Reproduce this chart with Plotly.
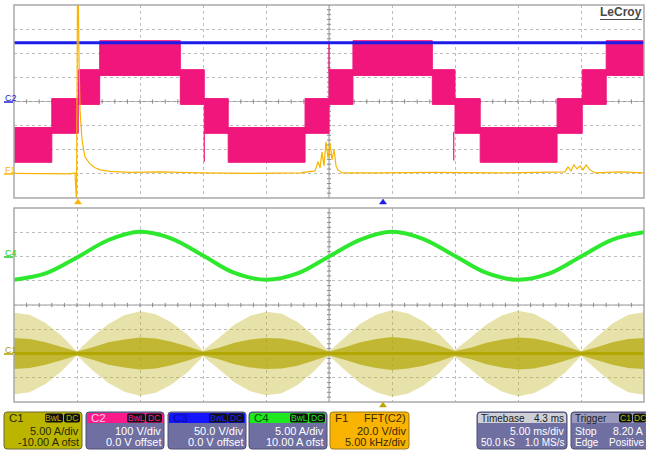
import plotly.graph_objects as go

W, H = 646, 451
def X(p): return p / W
def Y(p): return 1 - p / H

# C2 : multilevel inverter voltage, 100 V/div, 0 V offset (PWM bands between two levels)
c2_edges_ms = [0, 3.0, 5.1, 6.8, 13.2, 15.1, 17.0, 23.1, 25.0, 26.9, 33.2, 35.0, 37.0, 43.1, 45.1, 47.0, 50]
c2_low_V  = [-240, -120, 0, 120, 0, -120, -240, -120, 0, 120, 0, -120, -240, -120, 0, 120]
c2_high_V = [-120, 0, 120, 240, 120, 0, -120, 0, 120, 240, 120, 0, -120, 0, 120, 240]
c2_spike_ms = [15.1, 25.0, 34.9]
c2_spike_from_V = [-125, 125, -125]
c2_spike_to_V = [-250, 240, -245]

# C3 : DC link voltage, 50 V/div, 0 V offset
c3_t_ms = [0, 10, 20, 30, 40, 50]
c3_V = [122, 122, 121.5, 122, 122, 122]

# F1 : FFT(C2), 20 V/div, baseline 3 div below centre
f1_t_ms = [0.0, 4.44, 4.84, 4.96, 5.04, 5.10, 5.16, 5.24, 5.40, 5.63, 6.03, 6.43, 6.83, 7.62, 9.21,
           11.59, 14.76, 18.73, 22.70, 23.89, 24.13, 24.29, 24.44, 24.60, 24.76, 24.92, 25.08, 25.24,
           25.40, 25.56, 25.71, 26.03, 29.05, 33.02, 38.57, 43.73, 43.97, 44.21, 44.44, 44.68, 44.92,
           45.16, 45.40, 45.71, 46.11, 48.10, 50.0]
f1_V = [0.4, 0, 0.8, -22, 150, 150, 94.6, 53, 28, 14, 8.3, 5.0, 3.3, 2.1, 1.2,
        1.7, 0.8, 0.4, 0.8, 2.5, 10, 5, 18, 6.6, 26.6, 13, 25.7, 11.6,
        20, 6.6, 3.3, 0.8, 0.8, 1.2, 0.8, 1.7, 5.8, 2.5, 7.5, 4.1, 6.6,
        3.3, 7.5, 3.3, 0.8, 1.7, 0.8]

# C4 : load current, 5 A/div, +10 A offset
c4_t_ms = [0, 2.5, 5, 7.5, 10, 12.5, 15, 17.5, 20, 22.5, 25, 27.5, 30, 32.5, 35, 37.5, 40, 42.5, 45, 47.5, 50]
c4_A = [-4.8, -3.5, -0.2, 3.4, 5.1, 3.7, 0.2, -3.4, -4.8, -3.5, 0.0, 3.5, 5.1, 3.6, 0.1, -3.4, -4.8, -3.5, 0.0, 3.5, 5.0]

# C1 : switched current, 5 A/div, -10 A offset (spike envelope and dense core)
c1_t_ms = [0, 1.25, 2.5, 3.75, 5.0, 6.25, 7.5, 8.75, 10.0, 11.25, 12.5, 13.75, 15.0, 16.25, 17.5, 18.75,
           20.0, 21.25, 22.5, 23.75, 25.0, 26.25, 27.5, 28.75, 30.0, 31.25, 32.5, 33.75, 35.0, 36.25,
           37.5, 38.75, 40.0, 41.25, 42.5, 43.75, 45.0, 46.25, 47.5, 48.75, 50.0]
c1_peak_A = [8.4, 8.0, 6.3, 3.7, 0.4, 3.5, 6.1, 7.9, 8.7, 8.1, 6.4, 3.9, 0.6, 3.2, 6.0, 7.8,
             8.6, 8.2, 6.5, 3.8, 0.4, 3.4, 6.2, 8.0, 8.9, 8.3, 6.6, 4.0, 0.7, 3.3,
             6.0, 7.9, 8.8, 8.2, 6.5, 3.9, 0.5, 3.4, 6.2, 8.0, 8.5]
c1_core_A = [3.2, 3.0, 2.3, 1.4, 0.4, 1.3, 2.3, 2.9, 3.3, 3.1, 2.4, 1.5, 0.4, 1.2, 2.2, 2.9,
             3.2, 3.1, 2.5, 1.5, 0.4, 1.3, 2.3, 3.0, 3.4, 3.1, 2.5, 1.6, 0.5, 1.2,
             2.2, 2.9, 3.3, 3.1, 2.4, 1.5, 0.4, 1.3, 2.3, 3.0, 3.2]

# channel scales
C2_VDIV, C3_VDIV, F1_VDIV, F1_BASE = 100.0, 50.0, 20.0, -3.0
C4_ADIV, C4_OFS, C1_ADIV, C1_OFS = 5.0, 10.0, 5.0, -10.0

# ---------------- colours ----------------
MAG = '#f0167c'
BLUE = '#1c1ce8'
ORANGE = '#f8b400'
GREEN = '#2ee82e'
OLIVE = '#b2a700'
GRID = '#bdbdbd'
FRAME = '#a9a9a9'
PURPLE = '#6f6fa2'

fig = go.Figure()

# ---- centre-line tick marks (decoration) ----
def ticks(xa, ya):
    xs, ys = [], []
    for i in range(51):
        t = i * 1.0
        xs += [t, t, None]; ys += [-0.09, 0.09, None]
    for j in range(41):
        v = -4 + j * 0.2
        xs += [24.84, 25.16, None]; ys += [v, v, None]
    fig.add_trace(go.Scatter(x=xs, y=ys, mode='lines', xaxis=xa, yaxis=ya,
                             line=dict(color='#8a8a8a', width=1), hoverinfo='skip', showlegend=False))
ticks('x', 'y')
ticks('x2', 'y2')

# ---- C2 bands ----
pad = 0.12
bx, by = [], []
for k in range(len(c2_low_V)):
    t0, t1 = c2_edges_ms[k], c2_edges_ms[k + 1]
    lo = c2_low_V[k] / C2_VDIV - pad
    hi = c2_high_V[k] / C2_VDIV + pad
    bx += [t0, t1, t1, t0, t0, None]
    by += [lo, lo, hi, hi, lo, None]
fig.add_trace(go.Scatter(x=bx, y=by, mode='lines', fill='toself', fillcolor=MAG,
                         line=dict(color=MAG, width=1), hoverinfo='skip', showlegend=False))
sx, sy = [], []
for t, a, b in zip(c2_spike_ms, c2_spike_from_V, c2_spike_to_V):
    sx += [t, t, None]; sy += [a / C2_VDIV, b / C2_VDIV, None]
fig.add_trace(go.Scatter(x=sx, y=sy, mode='lines', line=dict(color=MAG, width=1.2),
                         hoverinfo='skip', showlegend=False))

# ---- C3 ----
fig.add_trace(go.Scatter(x=c3_t_ms, y=[v / C3_VDIV for v in c3_V], mode='lines',
                         line=dict(color=BLUE, width=3), hoverinfo='skip', showlegend=False))

# ---- F1 ----
fig.add_trace(go.Scatter(x=f1_t_ms, y=[F1_BASE + v / F1_VDIV for v in f1_V], mode='lines',
                         line=dict(color=ORANGE, width=1.2), hoverinfo='skip', showlegend=False))

# ---- C1 (bottom) ----
c1_mid = C1_OFS / C1_ADIV
ox = c1_t_ms + c1_t_ms[::-1]
oy = [c1_mid + a / C1_ADIV for a in c1_peak_A] + [c1_mid - a / C1_ADIV for a in c1_peak_A[::-1]]
fig.add_trace(go.Scatter(x=ox, y=oy, xaxis='x2', yaxis='y2', mode='lines', fill='toself',
                         fillcolor='rgba(190,180,30,0.38)', line=dict(color='rgba(0,0,0,0)', width=0),
                         hoverinfo='skip', showlegend=False))
iy = [c1_mid + a / C1_ADIV for a in c1_core_A] + [c1_mid - a / C1_ADIV for a in c1_core_A[::-1]]
fig.add_trace(go.Scatter(x=ox, y=iy, xaxis='x2', yaxis='y2', mode='lines', fill='toself',
                         fillcolor='rgba(176,165,0,0.7)', line=dict(color='rgba(0,0,0,0)', width=0),
                         hoverinfo='skip', showlegend=False))
fig.add_trace(go.Scatter(x=[c1_t_ms[0], c1_t_ms[-1]], y=[c1_mid, c1_mid], xaxis='x2', yaxis='y2',
                         mode='lines', line=dict(color=OLIVE, width=3), hoverinfo='skip', showlegend=False))

# ---- C4 ----
fig.add_trace(go.Scatter(x=c4_t_ms, y=[(a + C4_OFS) / C4_ADIV for a in c4_A], xaxis='x2', yaxis='y2',
                         mode='lines', line=dict(color=GREEN, width=4, shape='spline', smoothing=1.0),
                         hoverinfo='skip', showlegend=False))

# ---------------- axes ----------------
ax_common = dict(showticklabels=False, ticks='', zeroline=False, showline=False,
                 showgrid=True, gridcolor=GRID, griddash='dot', gridwidth=1)
fig.update_layout(
    width=W, height=H, margin=dict(l=0, r=0, t=0, b=0),
    paper_bgcolor='white', plot_bgcolor='white',
    xaxis=dict(domain=[X(14), X(644)], range=[0, 50], dtick=5, tick0=0, anchor='y', **ax_common),
    yaxis=dict(domain=[Y(198), Y(5)], range=[-4, 4], dtick=1, tick0=0, anchor='x', **ax_common),
    xaxis2=dict(domain=[X(14), X(644)], range=[0, 50], dtick=5, tick0=0, anchor='y2', matches='x', **ax_common),
    yaxis2=dict(domain=[Y(402), Y(208)], range=[-4, 4], dtick=1, tick0=0, anchor='x2', **ax_common),
    showlegend=False,
)

shapes = []
ann = []
FONT = 'Liberation Sans, Arial, sans-serif'

# centre lines & frames
for xr, yr in (('x', 'y'), ('x2', 'y2')):
    shapes.append(dict(type='line', xref=xr, yref=yr, x0=0, x1=50, y0=0, y1=0,
                       line=dict(color='#9a9a9a', width=1), layer='below'))
    shapes.append(dict(type='line', xref=xr, yref=yr, x0=25, x1=25, y0=-4, y1=4,
                       line=dict(color='#9a9a9a', width=1), layer='below'))
    shapes.append(dict(type='rect', xref=xr + ' domain', yref=yr + ' domain', x0=0, x1=1, y0=0, y1=1,
                       line=dict(color=FRAME, width=1.5)))

def tri(cx, cy, w, h, col):
    return dict(type='path', xref='paper', yref='paper',
                path=f'M {X(cx - w/2)},{Y(cy)} L {X(cx + w/2)},{Y(cy)} L {X(cx)},{Y(cy - h)} Z',
                fillcolor=col, line=dict(color=col, width=0.5))

shapes.append(tri(78, 204, 7, 5, ORANGE))
shapes.append(tri(383, 204, 7, 5, BLUE))
shapes.append(tri(383, 407, 7, 5, '#b9a600'))

# left channel labels
for txt, yy, col in (('C2', 102, '#2222cc'), ('F1', 174, ORANGE), ('C4', 257, '#22cc22'), ('C1', 354, '#a89c00')):
    ann.append(dict(x=X(3), y=Y(yy - 4), xref='paper', yref='paper', text=txt, showarrow=False,
                    xanchor='left', yanchor='middle', font=dict(family=FONT, size=9, color=col)))
    shapes.append(dict(type='line', xref='paper', yref='paper', x0=X(4), x1=X(13), y0=Y(yy), y1=Y(yy),
                       line=dict(color=col, width=1.5)))

# LeCroy logo
ann.append(dict(x=X(621), y=Y(12.5), xref='paper', yref='paper', text='<b>LeCroy</b>', showarrow=False,
                xanchor='center', yanchor='middle', font=dict(family=FONT, size=12, color='#4a4a4a')))
shapes.append(dict(type='line', xref='paper', yref='paper', x0=X(600), x1=X(642), y0=Y(19.5), y1=Y(19.5),
                   line=dict(color='#4a4a4a', width=1)))

# ---------------- info boxes ----------------
def rpath(x0, y0, x1, y1, rt, rb):
    return ('M {a},{b} L {c},{b} Q {d},{b} {d},{e} L {d},{f} Q {d},{g} {h},{g} L {i},{g} Q {j},{g} {j},{f} '
            'L {j},{e} Q {j},{b} {a},{b} Z').format(
        a=X(x0 + rt), b=Y(y0), c=X(x1 - rt), d=X(x1), e=Y(y0 + rt), f=Y(y1 - rb), g=Y(y1),
        h=X(x1 - rb), i=X(x0 + rb), j=X(x0))

def box(x0, x1, body, head=None, border='#4e4e72'):
    shapes.append(dict(type='path', xref='paper', yref='paper', path=rpath(x0, 412, x1, 449, 3, 3),
                       fillcolor=body, line=dict(color=border, width=1)))
    if head:
        shapes.append(dict(type='path', xref='paper', yref='paper', path=rpath(x0 + 1, 413, x1 - 1, 423, 2, 0),
                           fillcolor=head, line=dict(width=0)))

def text(x, y, s, col, anchor='left', size=10.5):
    ann.append(dict(x=X(x), y=Y(y), xref='paper', yref='paper', text=s,
                    showarrow=False, xanchor=anchor, yanchor='middle',
                    font=dict(family=FONT, size=size, color=col)))

def badge(x0, x1, s, col):
    shapes.append(dict(type='path', xref='paper', yref='paper', path=rpath(x0, 413.5, x1, 422.5, 2, 2),
                       fillcolor='#111111', line=dict(width=0)))
    text((x0 + x1) / 2, 418.3, s, col, anchor='center', size=8.5)

# channel boxes
chan_boxes = [
    (4, 82, 'C1', '#bbb500', '#2a2a00', '#bbb500', '#2a2a00', '#bbb500', '5.00 A/div', '-10.00 A ofst'),
    (86, 164, 'C2', '#ff1a8c', '#ffd0e8', PURPLE, 'white', '#ff1a8c', '100 V/div', '0.0 V offset'),
    (168, 246, 'C3', '#1414ff', '#0a0a90', PURPLE, 'white', '#2020ff', '50.0 V/div', '0.0 V offset'),
    (249, 327, 'C4', '#1ee81e', '#0a4a0a', PURPLE, 'white', '#1ee81e', '5.00 A/div', '10.00 A ofst'),
]
for x0, x1, lab, hc, htc, bc, btc, bgc, l2, l3 in chan_boxes:
    box(x0, x1, bc, hc, border='#6e6a30' if lab == 'C1' else '#4e4e72')
    text(x0 + 3, 418, lab, htc, size=11.5)
    badge(x1 - 37, x1 - 19, 'BwL', bgc)
    badge(x1 - 18, x1 - 2, 'DC', bgc)
    text(x1 - 1, 431, l2, btc, anchor='right', size=11)
    text(x1 - 1, 442, l3, btc, anchor='right', size=11)

# F1 box
box(330, 409, ORANGE, None, border='#a07a20')
text(333, 418, 'F1', '#3a2a00', size=11.5)
text(408, 418, 'FFT(C2)', '#3a2a00', anchor='right', size=11)
text(408, 431, '20.0 V/div', '#3a2a00', anchor='right', size=11)
text(408, 442, '5.00 kHz/div', '#3a2a00', anchor='right', size=11)

# Timebase box
box(477, 567, PURPLE, '#cfcfd6')
text(479, 418, 'Timebase', '#202020', size=10)
text(566, 418, '4.3 ms', '#202020', anchor='right', size=10)
text(566, 431, '5.00 ms/div', 'white', anchor='right')
text(479, 442, '50.0 kS', 'white', size=10)
text(566, 442, '1.0 MS/s', 'white', anchor='right', size=10)

# Trigger box
box(571, 650, PURPLE, '#9a9abd')
text(573, 418, 'Trigger', '#202020', size=10)
badge(619, 632, 'C1', '#bbb500')
badge(633, 646, 'DC', '#bbb500')
text(573, 431, 'Stop', 'white')
text(645, 431, '8.20 A', 'white', anchor='right')
text(573, 442, 'Edge', 'white', size=10)
text(646, 442, 'Positive', 'white', anchor='right', size=10)

fig.update_layout(shapes=shapes, annotations=ann)
fig.write_html('out.html', config={'displayModeBar': False},
               post_script="document.body.style.margin='0';document.body.style.overflow='hidden';")
